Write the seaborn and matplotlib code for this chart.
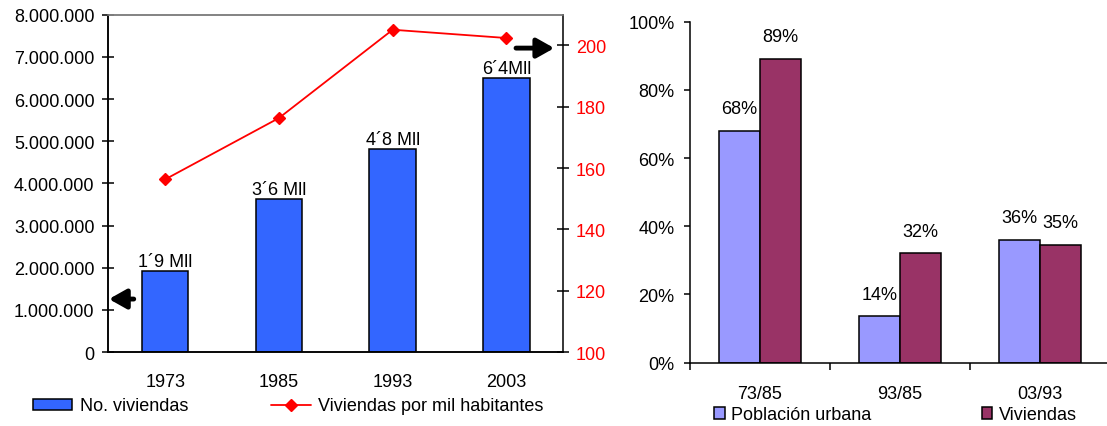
#!/usr/bin/env python3

from matplotlib import pyplot as plt
from matplotlib.lines import Line2D
from matplotlib.patches import Patch
from matplotlib.ticker import FuncFormatter, PercentFormatter
import pandas as pd
import seaborn as sns

# left chart: number of dwellings and dwellings per thousand inhabitants
years = ["1973", "1985", "1993", "2003"]
viviendas = [1910000, 3630000, 4810000, 6490000]
viviendas_labels = ["1´9 Mll", "3´6 Mll", "4´8 Mll", "6´4Mll"]
por_mil = [156.3, 176.3, 205.1, 202.4]

# right chart: growth between periods
periodos = ["73/85", "93/85", "03/93"]
poblacion_urbana = [0.68, 0.135, 0.36]
viviendas_crec = [0.89, 0.32, 0.345]
poblacion_labels = ["68%", "14%", "36%"]
viviendas_crec_labels = ["89%", "32%", "35%"]

BLUE = "#3366FF"
RED = "#FF0000"
LILAC = "#9999FF"
PLUM = "#993366"
FS = 13


def main():
    sns.set_style("white")
    plt.rcParams["font.family"] = ["Liberation Sans", "DejaVu Sans"]
    plt.rcParams["font.size"] = FS
    plt.rcParams["text.color"] = "black"
    plt.rcParams["xtick.color"] = "black"
    plt.rcParams["ytick.color"] = "black"

    fig = plt.figure(figsize=(11.07, 4.27), dpi=100)
    ax = fig.add_axes([0.0978, 0.1733, 0.4111, 0.7899])
    axr = fig.add_axes([0.6233, 0.1487, 0.3794, 0.7981])

    # ---- left chart ----
    df_l = pd.DataFrame({"year": years, "viviendas": viviendas})
    sns.barplot(df_l, x="year", y="viviendas", color=BLUE, saturation=1,
                width=0.41, edgecolor="black", linewidth=1.1, ax=ax)
    ax.bar_label(ax.containers[0], labels=viviendas_labels, padding=1,
                 fontsize=FS)

    ax2 = ax.twinx()
    df_m = pd.DataFrame({"year": years, "por_mil": por_mil})
    sns.pointplot(df_m, x="year", y="por_mil", color=RED, markers="D",
                  markersize=6, linewidth=1.3, ax=ax2)

    ax.set_ylim(0, 8000000)
    ax.set_yticks(range(0, 8000001, 1000000))
    ax.yaxis.set_major_formatter(
        FuncFormatter(lambda v, p: f"{v:,.0f}".replace(",", ".")))
    ax2.set_ylim(100, 210)
    ax2.set_yticks(range(100, 201, 20))
    for a in (ax, ax2):
        a.set_xlim(-0.5, 3.5)
        a.set_xlabel("")
        a.set_ylabel("")

    ax.set_xticks([-0.5, 0.5, 1.5, 2.5, 3.5], [""] * 5)
    ax.set_xticks(range(len(years)), years, minor=True)
    ax.tick_params(axis="x", which="major", direction="inout", length=7,
                   width=1.1, color="black")
    ax.tick_params(axis="x", which="minor", length=0, pad=15, labelsize=FS)
    ax.tick_params(axis="y", direction="inout", length=8, width=1.1,
                   pad=6, labelsize=FS, color="black")
    ax2.tick_params(axis="y", direction="inout", length=8, width=1.1,
                    pad=5, labelsize=FS, labelcolor=RED, color="black")

    for a in (ax, ax2):
        a.spines["top"].set_color("#808080")
        a.spines["left"].set_color("black")
        a.spines["bottom"].set_color("black")
        a.spines["right"].set_color("black")
        for s in a.spines.values():
            s.set_linewidth(1.1)
    ax.spines["right"].set_visible(False)

    arrow = dict(arrowstyle="-|>,head_length=0.8,head_width=0.45",
                 color="black", lw=3.5, shrinkA=0, shrinkB=0)
    ax.annotate("", xy=(0.0015, 0.157), xytext=(0.056, 0.157),
                xycoords="axes fraction", arrowprops=arrow)
    ax.annotate("", xy=(0.98, 0.901), xytext=(0.896, 0.901),
                xycoords="axes fraction", arrowprops=arrow)

    handles_l = [
        Patch(facecolor=BLUE, edgecolor="black", linewidth=1.1),
        Line2D([], [], color=RED, marker="D", markersize=6, linewidth=1.3),
    ]
    fig.legend(handles_l, ["No. viviendas", "Viviendas por mil habitantes"],
               loc="center left", bbox_to_anchor=(0.0295, 1 - 407 / 427),
               ncol=2, frameon=False, borderpad=0, borderaxespad=0,
               handlelength=2.2, handleheight=0.55, handletextpad=0.4,
               columnspacing=4.6, fontsize=FS)

    # ---- right chart ----
    df_r = pd.DataFrame({
        "periodo": periodos * 2,
        "serie": ["Población urbana"] * 3 + ["Viviendas"] * 3,
        "valor": poblacion_urbana + viviendas_crec,
    })
    sns.barplot(df_r, x="periodo", y="valor", hue="serie",
                palette=[LILAC, PLUM], saturation=1, width=0.585,
                edgecolor="black", linewidth=1.1, legend=False, ax=axr)
    axr.bar_label(axr.containers[0], labels=poblacion_labels, padding=10,
                  fontsize=FS)
    axr.bar_label(axr.containers[1], labels=viviendas_crec_labels,
                  padding=10, fontsize=FS)

    axr.set_ylim(0, 1)
    axr.set_yticks([0, 0.2, 0.4, 0.6, 0.8, 1.0])
    axr.yaxis.set_major_formatter(PercentFormatter(1.0, decimals=0))
    axr.set_xlim(-0.5, 2.5)
    axr.set_xlabel("")
    axr.set_ylabel("")
    axr.set_xticks([-0.5, 0.5, 1.5, 2.5], [""] * 4)
    axr.set_xticks(range(len(periodos)), periodos, minor=True)
    axr.tick_params(axis="x", which="major", direction="out", length=5,
                    width=1.1, color="black", bottom=True)
    axr.tick_params(axis="x", which="minor", length=0, pad=16,
                    labelsize=FS)
    axr.tick_params(axis="y", direction="out", length=4, width=1.1,
                    pad=7, labelsize=FS, color="black", left=True)
    axr.spines["top"].set_visible(False)
    axr.spines["right"].set_visible(False)
    for s in ("left", "bottom"):
        axr.spines[s].set_color("black")
        axr.spines[s].set_linewidth(1.1)

    handles_r = [
        Patch(facecolor=LILAC, edgecolor="black", linewidth=1.1),
        Patch(facecolor=PLUM, edgecolor="black", linewidth=1.1),
    ]
    fig.legend(handles_r, ["Población urbana", "Viviendas"],
               loc="center left", bbox_to_anchor=(714 / 1107, 1 - 416 / 427),
               ncol=2, frameon=False, borderpad=0, borderaxespad=0,
               handlelength=0.6, handleheight=0.6, handletextpad=0.35,
               columnspacing=6.1, fontsize=FS)

    plt.savefig("out.png", dpi=100)


if __name__ == "__main__":
    main()
